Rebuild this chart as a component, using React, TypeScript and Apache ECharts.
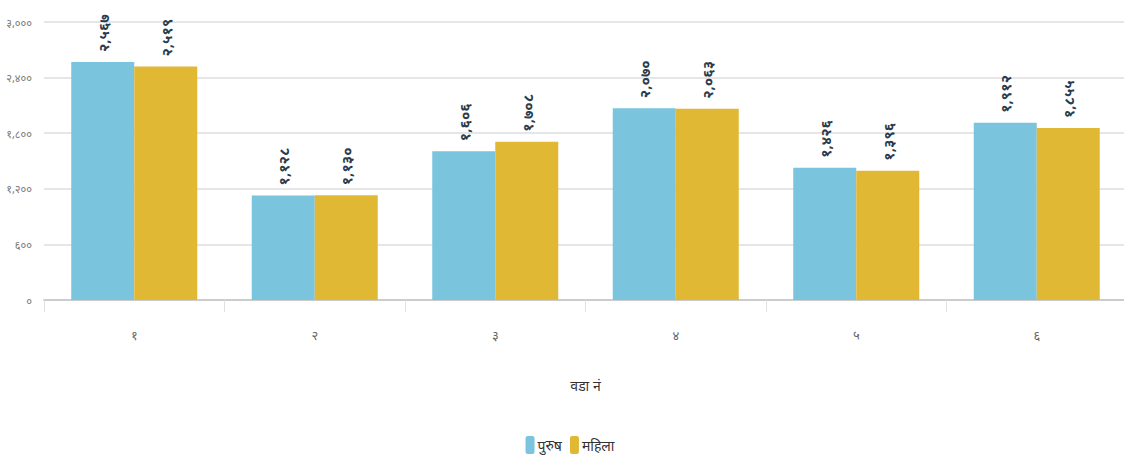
import React, { useEffect, useRef } from "react";
import * as echarts from "echarts";

const categories = ["१", "२", "३", "४", "५", "६"];
const maleValues = [2567, 1128, 1606, 2070, 1426, 1912];
const femaleValues = [2519, 1130, 1708, 2063, 1396, 1855];
const seriesNames = ["पुरुष", "महिला"];
const yTicks = [0, 600, 1200, 1800, 2400, 3000];
const axisTitle = "वडा नं";

const devDigits = ["०", "१", "२", "३", "४", "५", "६", "७", "८", "९"];
function toNepali(n: number): string {
  const s = Math.round(n).toLocaleString("en-US");
  return s.replace(/[0-9]/g, (d) => devDigits[Number(d)]);
}

export default function App() {
  const ref = useRef<HTMLDivElement>(null);
  useEffect(() => {
    if (!ref.current) return;
    document.body.style.margin = "0";
    document.body.style.overflow = "hidden";
    const chart = echarts.init(ref.current, null, { renderer: "svg" });
    const labelCfg = {
      show: true,
      position: "top" as const,
      rotate: 90,
      align: "left" as const,
      verticalAlign: "middle" as const,
      distance: 10,
      color: "#2a3b4c",
      fontSize: 15,
      fontWeight: "bold" as const,
      formatter: (p: any) => toNepali(p.value),
    };
    chart.setOption({
      animation: false,
      textStyle: { fontFamily: "Noto Sans, sans-serif" },
      grid: { left: 44, right: 13, top: 22, bottom: 161, containLabel: false },
      legend: {
        bottom: 2,
        left: "center",
        icon: "roundRect",
        itemWidth: 9,
        itemHeight: 18,
        itemGap: 8,
        textStyle: { fontSize: 14, color: "#333", padding: [0, 0, 0, -2] },
        data: seriesNames,
      },
      xAxis: {
        type: "category",
        data: categories,
        name: axisTitle,
        nameLocation: "middle",
        nameGap: 78,
        nameTextStyle: { fontSize: 14, color: "#333" },
        axisLine: { lineStyle: { color: "#ccc", width: 2 } },
        axisTick: { show: true, length: 12, lineStyle: { color: "#e0e0e0" } },
        axisLabel: { margin: 28, fontSize: 13, color: "#666" },
      },
      yAxis: {
        type: "value",
        min: 0,
        max: 3000,
        interval: 600,
        axisLine: { show: false },
        axisTick: { show: false },
        axisLabel: {
          fontSize: 11,
          color: "#777",
          margin: 12,
          formatter: (v: number) => (yTicks.includes(v) ? toNepali(v) : ""),
        },
        splitLine: { lineStyle: { color: "#e6e6e6", width: 2 } },
      },
      series: [
        {
          name: seriesNames[0],
          type: "bar",
          data: maleValues,
          barWidth: 63,
          barGap: "0%",
          itemStyle: { color: "#7AC4DE" },
          label: labelCfg,
        },
        {
          name: seriesNames[1],
          type: "bar",
          data: femaleValues,
          barWidth: 63,
          barGap: "0%",
          itemStyle: { color: "#E0B834" },
          label: labelCfg,
        },
      ],
    });
    return () => chart.dispose();
  }, []);
  return (
    <div style={{ width: 1124, height: 461, overflow: "hidden", position: "relative" }}>
      <div ref={ref} style={{ width: 1140, height: 461 }} />
    </div>
  );
}
